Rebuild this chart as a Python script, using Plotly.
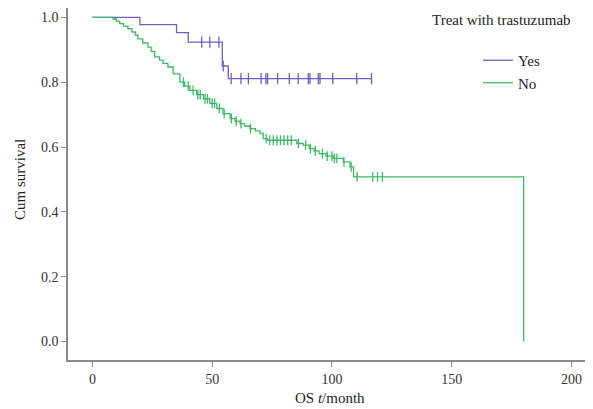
import plotly.graph_objects as go

# ---- data ----
# "Yes" group (treated with trastuzumab): step times and survival after each step
yes_times = [0, 19.8, 35.1, 40.0, 54.2, 56.7, 116.5]
yes_surv = [1.0, 0.978, 0.953, 0.924, 0.850, 0.811, 0.811]
yes_censor = [45.6, 49.0, 52.8, 54.6, 57.9, 62.0, 65.1, 70.4, 72.4, 73.1, 77.3,
              82.2, 85.9, 90.1, 90.8, 94.3, 95.0, 100.3, 110.3, 116.5]

# "No" group
no_times = [0, 8.6, 10.0, 11.4, 13.0, 14.8, 16.5, 18.0, 19.0, 21.0, 23.2, 24.5, 26.0,
            28.0, 29.5, 31.5, 33.7, 36.5, 38.5, 40.7, 43.5, 46.3, 49.0, 51.9, 54.5,
            57.5, 59.5, 61.6, 63.5, 65.8, 68.0, 69.9, 71.3, 73.0, 85.3, 88.0, 90.5,
            92.5, 94.6, 97.5, 100.5, 104.7, 107.5, 109.0, 180.0]
no_surv = [1.0, 0.995, 0.988, 0.981, 0.973, 0.965, 0.955, 0.945, 0.934, 0.921, 0.908,
           0.895, 0.878, 0.868, 0.858, 0.847, 0.826, 0.800, 0.788, 0.775, 0.762, 0.749,
           0.735, 0.719, 0.703, 0.688, 0.680, 0.672, 0.665, 0.657, 0.650, 0.642, 0.626,
           0.621, 0.611, 0.606, 0.595, 0.588, 0.580, 0.572, 0.565, 0.554, 0.539, 0.508,
           0.0]
no_censor = [38.0, 40.0, 42.0, 44.0, 45.0, 47.0, 48.0, 50.0, 51.0, 53.0, 55.0, 58.0,
             60.0, 62.0, 66.0, 72.5, 74.0, 75.5, 77.0, 78.5, 80.0, 81.5, 83.0, 86.0,
             89.0, 91.0, 93.0, 96.0, 98.0, 100.0, 101.0, 102.0, 105.0, 108.0, 110.5,
             117.0, 119.0, 121.0]

x_ticks = [0, 50, 100, 150, 200]
y_ticks = [0.0, 0.2, 0.4, 0.6, 0.8, 1.0]

YES_COLOR = "#6a60c4"
NO_COLOR = "#3fb868"
FONT = "Liberation Serif"


def surv_at(times, surv, t):
    s = surv[0]
    for ti, si in zip(times, surv):
        if ti <= t:
            s = si
    return s


fig = go.Figure()

fig.add_trace(go.Scatter(x=yes_times, y=yes_surv, mode="lines", line_shape="hv",
                         line=dict(color=YES_COLOR, width=1.3), name="Yes"))
fig.add_trace(go.Scatter(x=no_times, y=no_surv, mode="lines", line_shape="hv",
                         line=dict(color=NO_COLOR, width=1.3), name="No"))

fig.add_trace(go.Scatter(x=yes_censor, y=[surv_at(yes_times, yes_surv, t) for t in yes_censor],
                         mode="markers", showlegend=False, hoverinfo="skip",
                         marker=dict(symbol="line-ns", size=8,
                                     line=dict(color=YES_COLOR, width=1.3))))
fig.add_trace(go.Scatter(x=no_censor, y=[surv_at(no_times, no_surv, t) for t in no_censor],
                         mode="markers", showlegend=False, hoverinfo="skip",
                         marker=dict(symbol="line-ns", size=7,
                                     line=dict(color=NO_COLOR, width=1.3))))

axis_common = dict(showline=True, linecolor="#8a8a8a", linewidth=1.5, ticks="outside",
                   ticklen=5, tickcolor="#8a8a8a", tickwidth=1.3, showgrid=False,
                   zeroline=False, automargin=False,
                   tickfont=dict(family=FONT, size=14, color="#333"))

fig.update_xaxes(range=[-10.2, 207.7], tickvals=x_ticks, **axis_common)
fig.update_yaxes(range=[-0.057, 1.029], tickvals=y_ticks, tickformat=".1f", **axis_common)

# plot area on the page: x 68..590, y 8..360 (page has an 8px body margin)
PW, PH = 522, 352

# axis titles
fig.add_annotation(text="OS <i>t</i>/month", xref="paper", yref="paper",
                   x=(330 - 68) / PW, y=-(398 - 360) / PH, xanchor="center", yanchor="middle",
                   showarrow=False, font=dict(family=FONT, size=15, color="#222"))
fig.add_annotation(text="Cum survival", xref="paper", yref="paper",
                   x=-(68 - 20) / PW, y=(360 - 180) / PH, xanchor="center", yanchor="middle",
                   textangle=-90, showarrow=False, font=dict(family=FONT, size=15, color="#222"))

# legend title
fig.add_annotation(text="Treat with trastuzumab", xref="paper", yref="paper",
                   x=(430 - 68) / PW, y=(360 - 20) / PH, xanchor="left", yanchor="middle",
                   showarrow=False, font=dict(family=FONT, size=15, color="#222"))

fig.update_layout(
    width=585, height=401,
    margin=dict(l=60, r=3, t=0, b=49),
    paper_bgcolor="white", plot_bgcolor="white",
    legend=dict(x=(478 - 68) / PW, y=(360 - 44) / PH, xanchor="left", yanchor="top",
                font=dict(family=FONT, size=15, color="#222"),
                bgcolor="rgba(0,0,0,0)", itemwidth=30, tracegroupgap=0),
    font=dict(family=FONT),
)

fig.write_html("out.html")
